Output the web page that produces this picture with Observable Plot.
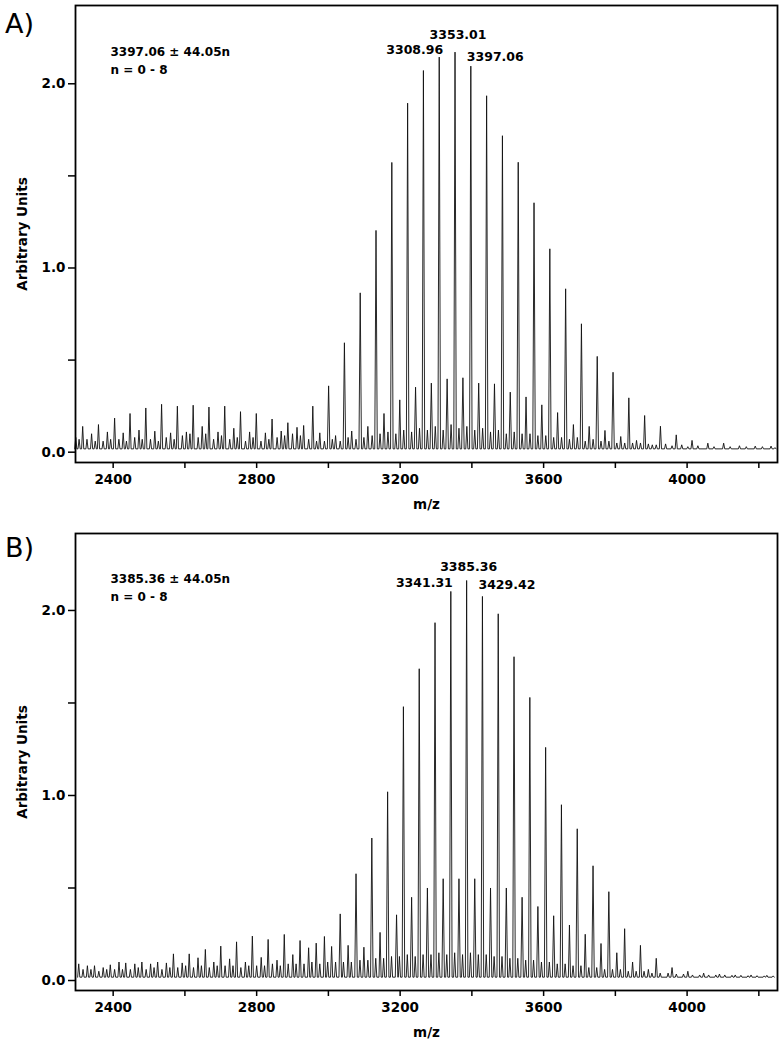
<!DOCTYPE html>
<html><head><meta charset="utf-8">
<script src="https://cdn.jsdelivr.net/npm/d3@7"></script>
<script src="https://cdn.jsdelivr.net/npm/@observablehq/plot@0.6"></script>
<style>
body{margin:0;background:#fff;}
#wrap{position:relative;width:783px;height:1050px;overflow:hidden;}
.panel{position:absolute;left:0;}
.plabel{position:absolute;left:5px;font-family:"DejaVu Sans",sans-serif;font-size:27px;line-height:1;color:#000;}
</style></head><body><div id="wrap"></div>
<script>
// ---------- Panel A data ----------
// main series 3397.06 ± 44.05n
const mainMzA = [2295.81,2339.86,2383.91,2427.96,2472.01,2516.06,2560.11,2604.16,2648.21,2692.26,2736.31,2780.36,2824.41,2868.46,2912.51,2956.56,3000.61,3044.66,3088.71,3132.76,3176.81,3220.86,3264.91,3308.96,3353.01,3397.06,3441.11,3485.16,3529.21,3573.26,3617.31,3661.36,3705.41,3749.46,3793.51,3837.56,3881.61,3925.66,3969.71,4013.76,4057.81,4101.86,4145.91,4189.96,4234.01];
const mainIntA = [0.08,0.10,0.11,0.105,0.12,0.114,0.105,0.11,0.14,0.11,0.13,0.11,0.105,0.115,0.135,0.25,0.36,0.594,0.865,1.204,1.573,1.895,2.072,2.145,2.172,2.096,1.935,1.718,1.574,1.354,1.104,0.887,0.697,0.52,0.434,0.295,0.199,0.141,0.094,0.064,0.049,0.049,0.035,0.033,0.033];
// interleaved series
const satMzA = [2315,2359,2404,2447,2491,2535,2579,2623,2667,2711,2755,2799,2843,2887,2931,2976,3020,3065,3110,3155,3199,3243,3287,3331,3375,3419,3463,3507,3551,3595,3639,3683,3727,3771,3815,3859,3903];
const satIntA = [0.14,0.15,0.185,0.21,0.24,0.26,0.25,0.255,0.245,0.25,0.22,0.21,0.18,0.16,0.145,0.105,0.09,0.115,0.14,0.21,0.284,0.353,0.375,0.398,0.404,0.375,0.371,0.326,0.30,0.257,0.215,0.15,0.14,0.118,0.085,0.064,0.04];
// small baseline peaks
const noiseMzA = [2305,2327,2350,2372,2393,2416,2437,2460,2481,2504,2526,2548,2570,2593,2614,2637,2658,2680,2702,2725,2746,2769,2790,2812,2834,2857,2878,2900,2922,2945,2967,2989,3011,3033,3055,3077,3099,3122,3144,3166,3188,3210,3232,3254,3276,3298,3320,3342,3364,3386,3408,3430,3452,3474,3496,3518,3540,3562,3584,3606,3628,3650,3672,3694,3716,3738,3760,3782,3804,3826,3848,3870,3892,3914,3940,3958,3985,4002,4030,4075,4120,4165,4210,4245];
const noiseIntA = [0.07,0.07,0.06,0.06,0.07,0.07,0.06,0.08,0.07,0.07,0.06,0.08,0.07,0.09,0.10,0.08,0.10,0.07,0.09,0.07,0.08,0.06,0.08,0.06,0.07,0.08,0.09,0.10,0.09,0.07,0.06,0.06,0.07,0.06,0.08,0.07,0.08,0.09,0.10,0.11,0.10,0.12,0.11,0.13,0.12,0.14,0.12,0.15,0.13,0.14,0.12,0.13,0.11,0.12,0.10,0.11,0.10,0.10,0.09,0.09,0.08,0.08,0.07,0.08,0.06,0.07,0.06,0.06,0.05,0.05,0.05,0.05,0.045,0.04,0.045,0.035,0.04,0.03,0.035,0.03,0.03,0.03,0.03,0.025];
const labelsA = ["3308.96","3353.01","3397.06"];
const noteA = ["3397.06 ± 44.05n","n = 0 - 8"];

// ---------- Panel B data ----------
// main series 3385.36 ± 44.05n
const mainMzB = [2328.16,2372.21,2416.26,2460.31,2504.36,2548.41,2592.46,2636.51,2680.56,2724.61,2768.66,2812.71,2856.76,2900.81,2944.86,2988.91,3032.96,3077.01,3121.06,3165.11,3209.16,3253.21,3297.26,3341.31,3385.36,3429.42,3473.46,3517.51,3561.56,3605.61,3649.66,3693.71,3737.76,3781.81,3825.86,3869.91,3913.96,3958.01,4002.06,4046.11,4090.16,4134.21,4178.26,4222.31];
const mainIntB = [0.08,0.07,0.10,0.09,0.09,0.095,0.095,0.123,0.10,0.117,0.10,0.125,0.11,0.14,0.177,0.238,0.36,0.577,0.77,1.02,1.48,1.685,1.934,2.103,2.162,2.076,1.982,1.75,1.53,1.26,0.95,0.82,0.62,0.48,0.28,0.19,0.12,0.07,0.05,0.04,0.035,0.03,0.03,0.028];
const satMzB = [2304,2348,2392,2435,2480,2524,2568,2612,2657,2700,2744,2788,2832,2877,2921,2966,3009,3055,3099,3144,3190,3232,3276,3320,3364,3408,3452,3496,3540,3584,3628,3672,3716,3760,3804,3848,3892];
const satIntB = [0.09,0.08,0.085,0.095,0.10,0.10,0.144,0.144,0.168,0.186,0.209,0.24,0.222,0.249,0.216,0.202,0.184,0.19,0.18,0.26,0.355,0.45,0.5,0.55,0.55,0.55,0.5,0.5,0.45,0.4,0.35,0.3,0.25,0.2,0.15,0.1,0.06];
const noiseMzB = [2316,2338,2360,2382,2404,2426,2448,2470,2492,2514,2536,2558,2580,2602,2624,2646,2668,2690,2712,2734,2756,2778,2800,2822,2844,2866,2888,2910,2932,2954,2976,2998,3020,3042,3064,3088,3110,3132,3154,3176,3198,3220,3242,3264,3286,3308,3330,3352,3374,3396,3418,3440,3462,3484,3506,3528,3550,3572,3594,3616,3638,3660,3682,3704,3726,3748,3770,3792,3814,3836,3858,3880,3902,3925,3947,3970,3990,4015,4035,4060,4080,4105,4125,4150,4170,4195,4215,4240];
const noiseIntB = [0.06,0.06,0.05,0.06,0.06,0.06,0.06,0.07,0.06,0.07,0.06,0.07,0.07,0.08,0.07,0.08,0.07,0.08,0.08,0.08,0.07,0.08,0.08,0.08,0.09,0.08,0.09,0.09,0.09,0.1,0.09,0.1,0.1,0.1,0.1,0.11,0.11,0.12,0.12,0.13,0.13,0.14,0.13,0.14,0.14,0.15,0.14,0.15,0.14,0.15,0.14,0.14,0.13,0.13,0.12,0.12,0.11,0.11,0.1,0.1,0.09,0.09,0.08,0.08,0.07,0.07,0.06,0.06,0.06,0.05,0.05,0.05,0.04,0.04,0.04,0.035,0.035,0.03,0.03,0.03,0.03,0.03,0.028,0.028,0.026,0.026,0.025,0.025];
const labelsB = ["3341.31","3385.36","3429.42"];
const noteB = ["3385.36 ± 44.05n","n = 0 - 8"];

// ---------- axes ----------
const xTicks = [2400,2600,2800,3000,3200,3400,3600,3800,4000,4200];
const xTickLabels = [2400,2800,3200,3600,4000];
const yTicks = [0,0.5,1,1.5,2];
const yTickLabels = [0,1,2];

const FONT = "DejaVu Sans, sans-serif";
const wrap = document.getElementById("wrap");

function spectrum(mz, inten, base) {
  const pk = mz.map((m, i) => ({mz: m, h: inten[i]})).sort((a, b) => a.mz - b.mz);
  const pts = [];
  for (const p of pk) {
    const w = p.h > 0.3 ? 3.5 : 3;
    pts.push({mz: p.mz - w, v: base});
    pts.push({mz: p.mz, v: p.h});
    pts.push({mz: p.mz + w, v: base});
  }
  return pts;
}

function panelPlot(cfg) {
  const allMz = cfg.mainMz.concat(cfg.satMz, cfg.noiseMz);
  const allInt = cfg.mainInt.concat(cfg.satInt, cfg.noiseInt);
  const pts = spectrum(allMz, allInt, 0.018);
  const lab = cfg.labels.map(t => {
    const m = +t;
    let best = 0;
    cfg.mainMz.forEach((v, j) => { if (Math.abs(v - m) < Math.abs(cfg.mainMz[best] - m)) best = j; });
    return {mz: cfg.mainMz[best], h: cfg.mainInt[best], text: t};
  });
  const labelMarks = lab.map((d, i) => Plot.text([d], {x: "mz", y: "h", text: "text", fontSize: 12.5, fontWeight: "bold", lineAnchor: "bottom",
    textAnchor: cfg.anchors[i], dx: cfg.dxs[i], dy: cfg.dys[i]}));
  return Plot.plot({
    width: 783, height: 520,
    marginLeft: 75, marginRight: 6, marginTop: 5, marginBottom: 58,
    style: {fontFamily: FONT, fontWeight: "bold", background: "#fff", color: "#000"},
    x: {domain: [2295, 4252]},
    y: {domain: cfg.yDomain},
    marks: [
      Plot.line(pts, {x: "mz", y: "v", stroke: "#111", strokeWidth: 0.9, curve: "linear"}),
      Plot.frame({stroke: "#000", strokeWidth: 1.8}),
      Plot.axisX({ticks: xTicks, tickFormat: d => xTickLabels.includes(d) ? String(d) : "", tickSize: 6, tickPadding: 6, strokeWidth: 1.5, fontSize: 13.5, label: "m/z", labelAnchor: "center", labelOffset: 46, labelArrow: "none"}),
      Plot.axisY({ticks: yTicks, tickFormat: d => yTickLabels.includes(d) ? d.toFixed(1) : "", tickSize: 7, tickPadding: 3, strokeWidth: 1.5, fontSize: 13.5, label: "Arbitrary Units", labelAnchor: "center", labelOffset: 58, labelArrow: "none"}),
      ...labelMarks,
      Plot.text([cfg.note.join("\n")], {frameAnchor: "top-left", dx: 35, dy: cfg.noteDy, fontSize: 12, fontWeight: "bold", lineAnchor: "top", lineHeight: 1.5, textAnchor: "start"})
    ]
  });
}

function place(cfg, top, letter, letterTop) {
  const el = panelPlot(cfg);
  el.classList.add("panel");
  el.style.top = top + "px";
  wrap.appendChild(el);
  const d = document.createElement("div");
  d.className = "plabel";
  d.textContent = letter;
  d.style.top = letterTop + "px";
  wrap.appendChild(d);
}

const cfgA = {mainMz: mainMzA, mainInt: mainIntA, satMz: satMzA, satInt: satIntA, noiseMz: noiseMzA, noiseInt: noiseIntA,
  labels: labelsA, note: noteA, yDomain: [-0.056, 2.425], anchors: ["end","middle","start"], dxs: [4,3,-4], dys: [-3,-13,-5], noteDy: 38};
const cfgB = {mainMz: mainMzB, mainInt: mainIntB, satMz: satMzB, satInt: satIntB, noiseMz: noiseMzB, noiseInt: noiseIntB,
  labels: labelsB, note: noteB, yDomain: [-0.054, 2.416], anchors: ["end","middle","start"], dxs: [2,2,-4], dys: [-4,-9,-7], noteDy: 37};

place(cfgA, 0, "A)", 10);
place(cfgB, 528, "B)", 534);
</script>
</body></html>
